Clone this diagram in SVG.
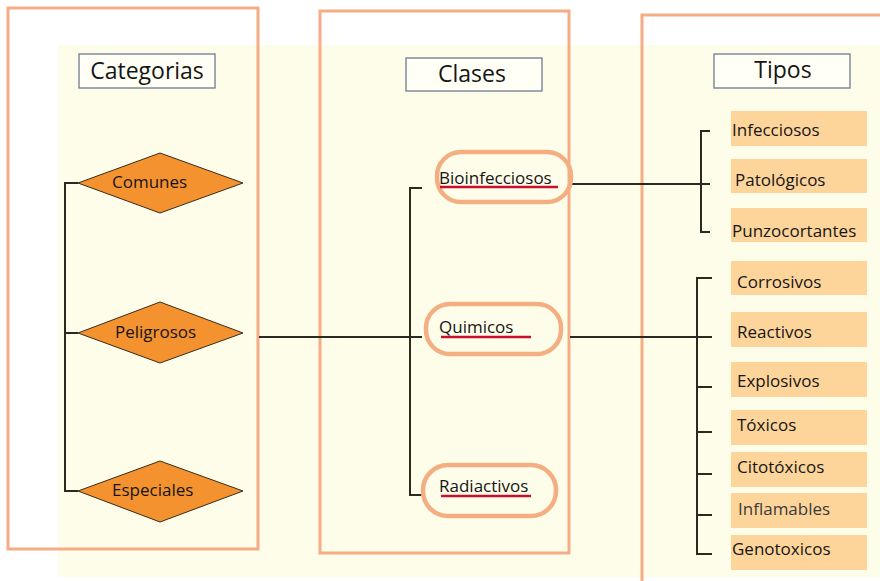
<svg xmlns="http://www.w3.org/2000/svg" width="880" height="581" viewBox="0 0 880 581">
<style>
.frame{fill:none;stroke:#f5ad85;stroke-width:3}
.title{fill:#fffff6;stroke:#6e7c8c;stroke-width:1.3}
.tt{font-family:"Open Sans","Liberation Sans",sans-serif;font-size:23px;font-weight:500;fill:#151515}
.dia{fill:#f4922f;stroke:#3a2a1a;stroke-width:1}
.lbl{font-family:"Open Sans","Liberation Sans",sans-serif;font-size:17px;font-weight:500;fill:#151515}
.pill{fill:none;stroke:#f3ae82;stroke-width:4.5}
.ul{stroke:#c8102e;stroke-width:2.5}
.tipo{fill:#fdd59b}
.conn{fill:none;stroke:#2a2a20;stroke-width:2}
</style>
<rect x="0" y="0" width="880" height="581" fill="#ffffff"/>
<rect x="58" y="45" width="822" height="532" fill="#fefdea"/>
<g id="frames">
<rect class="frame" x="8" y="8" width="250" height="541"/>
<rect class="frame" x="320" y="11" width="249" height="542"/>
<path class="frame" d="M642 590 V15 H882"/>
</g>
<g id="connectors">
<path class="conn" d="M78 183 H65 V491 H78 M65 333 H78"/>
<path class="conn" d="M259 337 H422"/>
<path class="conn" d="M422 188 H410 V495 H422"/>
<path class="conn" d="M572 184 H710 M710 131 H701 V232 H710"/>
<path class="conn" d="M570 337 H712 M712 278 H697 V554 H712 M697 387 H712 M697 432 H712 M697 474 H712 M697 515 H712"/>
</g>
<g id="title-categorias">
<rect class="title" x="79" y="54" width="136" height="34"/>
<text class="tt" x="147" y="79" text-anchor="middle">Categorias</text>
</g>
<g id="title-clases">
<rect class="title" x="406" y="58" width="136" height="33"/>
<text class="tt" x="472" y="82" text-anchor="middle">Clases</text>
</g>
<g id="title-tipos">
<rect class="title" x="714" y="54" width="136" height="34"/>
<text class="tt" x="783" y="78" text-anchor="middle">Tipos</text>
</g>
<g id="comunes">
<polygon class="dia" points="78,183 160,153 243,183 160,213"/>
<text class="lbl" x="112" y="188">Comunes</text>
</g>
<g id="peligrosos">
<polygon class="dia" points="78,333 160,302 243,333 160,363"/>
<text class="lbl" x="115" y="338">Peligrosos</text>
</g>
<g id="especiales">
<polygon class="dia" points="78,491 160,461 243,491 160,522"/>
<text class="lbl" x="112" y="496">Especiales</text>
</g>
<g id="bioinfecciosos">
<rect class="pill" x="437" y="152" width="134" height="50" rx="24"/>
<line class="ul" x1="440" y1="187" x2="558" y2="187"/>
<text class="lbl" x="439" y="184">Bioinfecciosos</text>
</g>
<g id="quimicos">
<rect class="pill" x="426" y="304" width="135" height="50" rx="24"/>
<line class="ul" x1="441" y1="337" x2="531" y2="337"/>
<text class="lbl" x="439" y="333">Quimicos</text>
</g>
<g id="radiactivos">
<rect class="pill" x="423" y="465" width="133" height="51" rx="25"/>
<line class="ul" x1="441" y1="496" x2="531" y2="496"/>
<text class="lbl" x="439" y="492">Radiactivos</text>
</g>
<g id="infecciosos"><rect class="tipo" x="731" y="111" width="136" height="35"/><text class="lbl" x="732" y="136">Infecciosos</text></g>
<g id="patologicos"><rect class="tipo" x="731" y="159" width="136" height="34"/><text class="lbl" x="735" y="186">Patológicos</text></g>
<g id="punzocortantes"><rect class="tipo" x="731" y="208" width="136" height="34"/><text class="lbl" x="732" y="237">Punzocortantes</text></g>
<g id="corrosivos"><rect class="tipo" x="731" y="261" width="136" height="34"/><text class="lbl" x="737" y="288">Corrosivos</text></g>
<g id="reactivos"><rect class="tipo" x="731" y="312" width="136" height="35"/><text class="lbl" x="737" y="338">Reactivos</text></g>
<g id="explosivos"><rect class="tipo" x="731" y="362" width="136" height="35"/><text class="lbl" x="737" y="387">Explosivos</text></g>
<g id="toxicos"><rect class="tipo" x="731" y="410" width="136" height="35"/><text class="lbl" x="737" y="431">Tóxicos</text></g>
<g id="citotoxicos"><rect class="tipo" x="731" y="452" width="136" height="35"/><text class="lbl" x="737" y="473">Citotóxicos</text></g>
<g id="inflamables"><rect class="tipo" x="731" y="493" width="136" height="35"/><text class="lbl" x="738" y="515" style="fill:#3a3a3a;font-weight:400">Inflamables</text></g>
<g id="genotoxicos"><rect class="tipo" x="731" y="535" width="136" height="35"/><text class="lbl" x="732" y="555">Genotoxicos</text></g>
</svg>
